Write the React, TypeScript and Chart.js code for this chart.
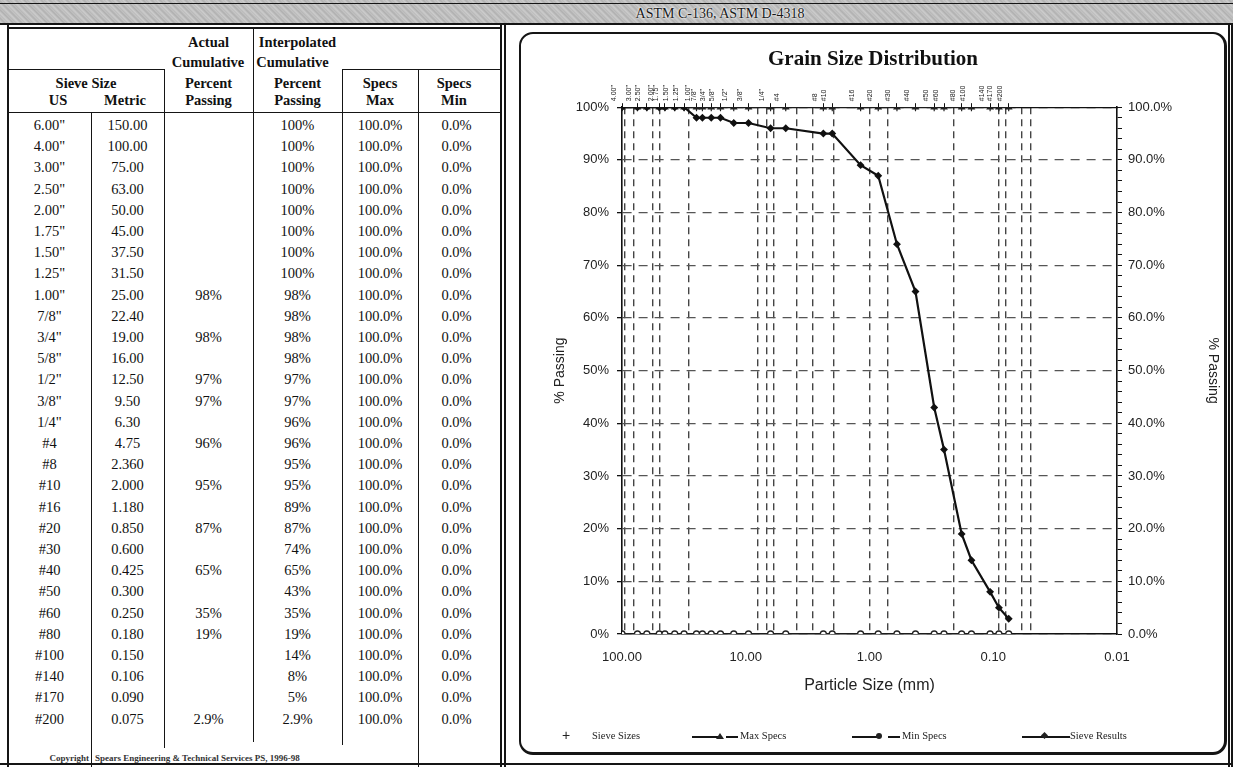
import React, { useEffect, useRef } from 'react';
import { Chart, registerables } from 'chart.js';
Chart.register(...registerables);

// ---------- data ----------
const sieveUS = ['6.00"', '4.00"', '3.00"', '2.50"', '2.00"', '1.75"', '1.50"', '1.25"', '1.00"', '7/8"', '3/4"', '5/8"', '1/2"', '3/8"', '1/4"', '#4', '#8', '#10', '#16', '#20', '#30', '#40', '#50', '#60', '#80', '#100', '#140', '#170', '#200'];
const sieveMetric = ['150.00', '100.00', '75.00', '63.00', '50.00', '45.00', '37.50', '31.50', '25.00', '22.40', '19.00', '16.00', '12.50', '9.50', '6.30', '4.75', '2.360', '2.000', '1.180', '0.850', '0.600', '0.425', '0.300', '0.250', '0.180', '0.150', '0.106', '0.090', '0.075'];
const actualPassing: (number | null)[] = [null, null, null, null, null, null, null, null, 98, null, 98, null, 97, 97, null, 96, null, 95, null, 87, null, 65, null, 35, 19, null, null, null, 2.9];
const interpPassing = [100, 100, 100, 100, 100, 100, 100, 100, 98, 98, 98, 98, 97, 97, 96, 96, 95, 95, 89, 87, 74, 65, 43, 35, 19, 14, 8, 5, 2.9];
const specsMax = [100, 100, 100, 100, 100, 100, 100, 100, 100, 100, 100, 100, 100, 100, 100, 100, 100, 100, 100, 100, 100, 100, 100, 100, 100, 100, 100, 100, 100];
const specsMin = [0, 0, 0, 0, 0, 0, 0, 0, 0, 0, 0, 0, 0, 0, 0, 0, 0, 0, 0, 0, 0, 0, 0, 0, 0, 0, 0, 0, 0];
const xDecades = [100, 10, 1, 0.1, 0.01];
const refLines = [95, 80, 57, 50, 29, 8, 6.8, 5.9, 3.9, 2.9, 1.95, 1.0, 0.71, 0.21, 0.09, 0.08, 0.059, 0.05];

const sieveMm = sieveMetric.map(Number);
const pct = (v: number) => (Number.isInteger(v) ? `${v}%` : `${v.toFixed(1)}%`);

const SERIF = '"Liberation Serif", "DejaVu Serif", serif';
const SANS = '"Liberation Sans", Arial, sans-serif';

function GrainChart() {
  const ref = useRef<HTMLCanvasElement | null>(null);
  useEffect(() => {
    if (!ref.current) return;
    const refSet = new Set(refLines);
    const bottomTicks = Array.from(new Set([...xDecades, ...refLines])).sort((a, b) => a - b);
    const pts = (ys: number[]) => sieveMm.map((x, i) => ({ x, y: ys[i] }));
    const chart = new Chart(ref.current, {
      type: 'scatter',
      data: {
        datasets: [
          {
            label: 'Sieve Results',
            data: pts(interpPassing),
            showLine: true,
            borderColor: '#111',
            backgroundColor: '#111',
            borderWidth: 2.2,
            pointStyle: 'rectRot',
            pointRadius: 2.4,
            xAxisID: 'x',
            yAxisID: 'y',
            order: 0,
          },
          {
            label: 'Max Specs',
            data: pts(specsMax),
            showLine: true,
            borderColor: '#222',
            backgroundColor: '#222',
            borderWidth: 1.5,
            pointStyle: 'triangle',
            pointRadius: 3,
            xAxisID: 'x',
            yAxisID: 'y',
            order: 2,
          },
          {
            label: 'Min Specs',
            data: pts(specsMin),
            showLine: true,
            borderColor: '#222',
            backgroundColor: '#fff',
            borderWidth: 1.5,
            pointBorderWidth: 1.3,
            pointStyle: 'circle',
            pointRadius: 3,
            xAxisID: 'x',
            yAxisID: 'y',
            order: 2,
          },
          {
            label: 'Sieve Sizes',
            data: pts(specsMax),
            showLine: false,
            borderColor: '#222',
            backgroundColor: '#222',
            pointBorderWidth: 1.2,
            pointStyle: 'cross',
            pointRadius: 4,
            xAxisID: 'x',
            yAxisID: 'y',
            order: 1,
          },
        ],
      },
      options: {
        animation: false,
        responsive: false,
        layout: { padding: { left: 0, right: 0, top: 0, bottom: 40 } },
        plugins: {
          legend: { display: false },
          tooltip: { enabled: false },
          title: {
            display: true,
            text: 'Grain Size Distribution',
            color: '#111',
            font: { family: SERIF, size: 21, weight: 'bold' },
            padding: { top: 12, bottom: 0 },
          },
        },
        scales: {
          x: {
            type: 'logarithmic',
            position: 'bottom',
            min: 0.01,
            max: 100,
            reverse: true,
            afterBuildTicks: (s: any) => {
              s.ticks = bottomTicks.map((v) => ({ value: v, major: false }));
            },
            afterFit: (s: any) => {
              s.height = 77;
            },
            ticks: {
              autoSkip: false,
              maxRotation: 0,
              minRotation: 0,
              padding: 16,
              color: '#222',
              font: { family: SANS, size: 13 },
              major: { enabled: false },
              callback: (v: any) => (xDecades.includes(Number(v)) ? Number(v).toFixed(2) : ''),
            },
            grid: {
              drawTicks: false,
              color: (ctx: any) => (ctx.tick && refSet.has(ctx.tick.value) ? '#444' : 'rgba(0,0,0,0)'),
              lineWidth: 1.4,
            },
            border: { display: true, color: '#111', width: 1.5, dash: [7, 5] },
            title: {
              display: true,
              text: 'Particle Size (mm)',
              color: '#222',
              font: { family: SANS, size: 16 },
              padding: { top: 0, bottom: 16 },
            },
          },
          xTop: {
            type: 'logarithmic',
            position: 'top',
            min: 0.01,
            max: 100,
            reverse: true,
            afterBuildTicks: (s: any) => {
              s.ticks = sieveMm.filter((v) => v <= 100).map((v) => ({ value: v, major: false }));
            },
            afterFit: (s: any) => {
              s.height = 35;
            },
            ticks: {
              autoSkip: false,
              maxRotation: 90,
              minRotation: 90,
              padding: 2,
              color: '#222',
              font: { family: SANS, size: 7 },
              major: { enabled: false },
              callback: (v: any) => sieveUS[sieveMm.indexOf(Number(v))] || '',
            },
            grid: { drawOnChartArea: false, tickLength: 4, tickColor: '#111' },
            border: { display: true, color: '#111', width: 1.2 },
          },
          y: {
            position: 'left',
            min: 0,
            max: 100,
            afterFit: (s: any) => {
              s.width = 100;
            },
            ticks: {
              stepSize: 10,
              padding: 8,
              color: '#222',
              font: { family: SANS, size: 13 },
              callback: (v: any) => `${v}%`,
            },
            grid: {
              color: '#555',
              lineWidth: 1.3,
              tickLength: 5,
              tickColor: '#111',
            },
            border: { display: true, color: '#111', width: 1.6, dash: [9, 7] },
            title: {
              display: true,
              text: '% Passing',
              color: '#222',
              font: { family: SANS, size: 14 },
              padding: { top: 30, bottom: 0 },
            },
          },
          yRight: {
            position: 'right',
            min: 0,
            max: 100,
            afterFit: (s: any) => {
              s.width = 107;
            },
            ticks: {
              stepSize: 2,
              autoSkip: false,
              padding: 6,
              color: '#222',
              font: { family: SANS, size: 13 },
              callback: (v: any) => (Number(v) % 10 === 0 ? `${Number(v).toFixed(1)}%` : ''),
            },
            grid: { drawOnChartArea: false, tickLength: 5, tickColor: '#111' },
            border: { display: true, color: '#111', width: 1.6 },
            title: {
              display: true,
              text: '% Passing',
              color: '#222',
              font: { family: SANS, size: 14 },
              padding: { top: 3, bottom: 0 },
            },
          },
        },
      } as any,
    });
    return () => chart.destroy();
  }, []);
  return <canvas ref={ref} width={702} height={716} style={{ width: 702, height: 716, display: 'block' }} />;
}

const L = (x: number, y: number, w: number, h: number, key: string, bg = '#151515') => (
  <div key={key} style={{ position: 'absolute', left: x, top: y, width: w, height: h, background: bg }} />
);

const cols = [8, 91, 164, 253, 342, 418, 501];
const ROW0 = 125;
const PITCH = 21.2;

function Cell({ x0, x1, cy, text, bold, size = 14.5 }: { x0: number; x1: number; cy: number; text: string; bold?: boolean; size?: number }) {
  return (
    <div
      style={{
        position: 'absolute',
        left: x0,
        top: cy - 9,
        width: x1 - x0,
        height: 18,
        lineHeight: '18px',
        textAlign: 'center',
        fontFamily: SERIF,
        fontSize: size,
        fontWeight: bold ? 'bold' : 'normal',
        color: '#111',
        whiteSpace: 'nowrap',
      }}
    >
      {text}
    </div>
  );
}

function Table() {
  const lines = [
    L(7, 24, 2, 743, 'lb'),
    L(500, 24, 2, 743, 'rb1'),
    L(504, 24, 2, 743, 'rb2'),
    L(8, 27, 493, 1.5, 'h1'),
    L(8, 68.5, 156, 1.5, 'h2a'),
    L(342, 68.5, 159, 1.5, 'h2b'),
    L(8, 111.5, 493, 1.5, 'h3'),
    L(90.5, 112, 1.5, 655, 'v1'),
    L(163.5, 69, 1.5, 679, 'v2'),
    L(252.5, 27, 1.5, 715, 'v3'),
    L(341.5, 69, 1.5, 676, 'v4'),
    L(417.5, 69, 1.5, 698, 'v5'),
  ];
  const hdr: React.ReactNode[] = [
    <Cell key="a1" x0={164} x1={253} cy={42} text="Actual" bold />,
    <Cell key="a2" x0={150} x1={266} cy={62} text="Cumulative" bold />,
    <Cell key="a3" x0={164} x1={253} cy={83} text="Percent" bold />,
    <Cell key="a4" x0={164} x1={253} cy={100} text="Passing" bold />,
    <Cell key="i1" x0={253} x1={342} cy={42} text="Interpolated" bold />,
    <Cell key="i2" x0={240} x1={345} cy={62} text="Cumulative" bold />,
    <Cell key="i3" x0={253} x1={342} cy={83} text="Percent" bold />,
    <Cell key="i4" x0={253} x1={342} cy={100} text="Passing" bold />,
    <Cell key="s1" x0={8} x1={164} cy={83} text="Sieve Size" bold />,
    <Cell key="s2" x0={20} x1={96} cy={100} text="US" bold />,
    <Cell key="s3" x0={86} x1={164} cy={100} text="Metric" bold />,
    <Cell key="m1" x0={342} x1={418} cy={83} text="Specs" bold />,
    <Cell key="m2" x0={342} x1={418} cy={100} text="Max" bold />,
    <Cell key="n1" x0={418} x1={490} cy={83} text="Specs" bold />,
    <Cell key="n2" x0={418} x1={490} cy={100} text="Min" bold />,
  ];
  const rows: React.ReactNode[] = [];
  sieveUS.forEach((us, i) => {
    const cy = ROW0 + i * PITCH;
    const a = actualPassing[i];
    rows.push(<Cell key={'u' + i} x0={cols[0]} x1={cols[1]} cy={cy} text={us} />);
    rows.push(<Cell key={'m' + i} x0={cols[1]} x1={cols[2]} cy={cy} text={sieveMetric[i]} />);
    if (a !== null) rows.push(<Cell key={'a' + i} x0={cols[2]} x1={cols[3]} cy={cy} text={pct(a)} />);
    rows.push(<Cell key={'p' + i} x0={cols[3]} x1={cols[4]} cy={cy} text={pct(interpPassing[i])} />);
    rows.push(<Cell key={'x' + i} x0={cols[4]} x1={cols[5]} cy={cy} text={`${specsMax[i].toFixed(1)}%`} />);
    rows.push(<Cell key={'n' + i} x0={cols[5]} x1={cols[6] - 6} cy={cy} text={`${specsMin[i].toFixed(1)}%`} />);
  });
  return (
    <>
      {lines}
      {hdr}
      {rows}
      <div style={{ position: 'absolute', left: 20, top: 752, width: 69, textAlign: 'right', fontFamily: SERIF, fontSize: 9, fontWeight: 'bold', color: '#333', lineHeight: '12px' }}>Copyright</div>
      <div style={{ position: 'absolute', left: 95, top: 752, fontFamily: SERIF, fontSize: 9, fontWeight: 'bold', color: '#333', lineHeight: '12px', whiteSpace: 'nowrap' }}>
        Spears Engineering &amp; Technical Services PS, 1996-98
      </div>
    </>
  );
}

function Legend() {
  const txt = (x: number, t: string) => (
    <div style={{ position: 'absolute', left: x, top: 729, fontFamily: SERIF, fontSize: 10.5, color: '#222', lineHeight: '14px', whiteSpace: 'nowrap' }}>{t}</div>
  );
  return (
    <>
      <div style={{ position: 'absolute', left: 562, top: 727, fontFamily: SANS, fontSize: 14, color: '#222', lineHeight: '16px' }}>+</div>
      {txt(592, 'Sieve Sizes')}
      {L(692, 736, 28, 1.6, 'lm1')}
      <div style={{ position: 'absolute', left: 716, top: 733, width: 0, height: 0, borderLeft: '4px solid transparent', borderRight: '4px solid transparent', borderBottom: '6px solid #222' }} />
      {L(726, 736, 12, 1.6, 'lm2')}
      {txt(740, 'Max Specs')}
      {L(852, 736, 28, 1.6, 'ln1')}
      <div style={{ position: 'absolute', left: 876, top: 733, width: 6, height: 6, borderRadius: 3, background: '#222' }} />
      {L(888, 736, 12, 1.6, 'ln2')}
      {txt(902, 'Min Specs')}
      {L(1022, 736, 48, 2, 'lr1')}
      <div style={{ position: 'absolute', left: 1042, top: 733, width: 5, height: 5, transform: 'rotate(45deg)', background: '#222' }} />
      {txt(1070, 'Sieve Results')}
    </>
  );
}

export default function App() {
  return (
    <div style={{ position: 'absolute', left: 0, top: 0, width: 1233, height: 767, background: '#fff', overflow: 'hidden' }}>
      {/* banner */}
      <div style={{ position: 'absolute', left: 0, top: 0, width: 1233, height: 24, background: 'repeating-linear-gradient(45deg, #b8b8b8 0px, #cccccc 2px, #b0b0b0 4px, #c6c6c6 6px)' }} />
      {L(0, 3, 1233, 1.2, 'bt')}
      {L(0, 23, 1233, 2, 'bb')}
      <div style={{ position: 'absolute', left: 555, top: 5, width: 330, textAlign: 'center', fontFamily: SERIF, fontSize: 14, color: '#1a1a1a', lineHeight: '17px', textShadow: '0 0 2px #fff, 0 0 2px #fff' }}>
        ASTM C-136, ASTM D-4318
      </div>
      <Table />
      {/* chart panel */}
      <div style={{ position: 'absolute', left: 519, top: 32, width: 703, height: 718, border: '2px solid #151515', borderRightWidth: 3, borderBottomWidth: 3, borderRadius: 14 }} />
      {L(1228, 24, 2, 743, 'or1')}
      {L(1231, 24, 2, 743, 'or2')}
      {L(0, 763, 1233, 2, 'ob')}
      <div style={{ position: 'absolute', left: 522, top: 35 }}>
        <GrainChart />
      </div>
      <Legend />
    </div>
  );
}
